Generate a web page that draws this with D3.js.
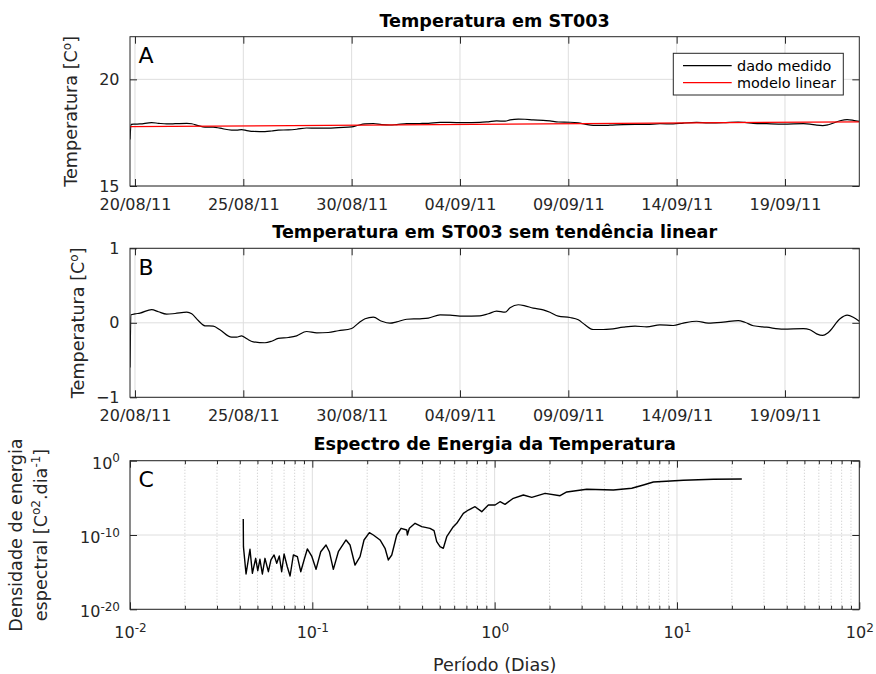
<!DOCTYPE html>
<html><head><meta charset="utf-8">
<script src="https://cdn.jsdelivr.net/npm/d3@7"></script>
<style>
body{margin:0;background:#fff}
svg text{font-family:"DejaVu Sans",sans-serif;fill:#262626}
</style>
</head><body>
<svg id="fig" width="876" height="674"></svg>
<script>
// ---------------- DATA ----------------
const rotulosDatas = ["20/08/11","25/08/11","30/08/11","04/09/11","09/09/11","14/09/11","19/09/11"];
// time in days since 20/08/11 00:00
const diasMedidos = [-0.23,-0.18,0,0.23,0.77,1.08,1.46,1.85,2.39,2.62,2.92,3.23,3.61,3.92,4.46,4.69,4.92,5.16,5.46,6.0,
  6.31,6.61,7.08,7.46,7.92,8.39,8.92,9.38,10.0,10.31,10.62,11.0,11.39,11.77,12.08,12.54,13.15,13.54,14.08,14.54,
  15.15,15.92,16.31,16.69,17.08,17.31,17.69,18.0,18.38,18.84,19.15,19.54,20.08,20.46,20.77,21.15,21.61,21.92,22.54,23.08,
  23.62,24.23,24.84,25.31,25.92,26.46,27.15,27.84,28.15,28.54,29.15,29.92,30.85,31.15,31.46,31.74,32.0,32.54,32.87,33.15,33.43];
const temperaturaMedida = [17.18,17.89,17.90,17.91,17.97,17.94,17.91,17.92,17.94,17.92,17.83,17.76,17.76,17.71,17.62,17.62,17.64,17.60,17.56,17.55,
  17.58,17.62,17.63,17.66,17.72,17.71,17.71,17.74,17.77,17.85,17.91,17.93,17.88,17.86,17.88,17.92,17.93,17.94,17.98,17.98,
  17.97,17.98,18.01,18.05,18.04,18.10,18.14,18.13,18.10,18.08,18.05,18.00,17.99,17.96,17.90,17.84,17.84,17.85,17.88,17.89,
  17.89,17.92,17.91,17.95,17.98,17.96,17.97,18.00,17.98,17.94,17.92,17.90,17.92,17.90,17.85,17.83,17.87,18.06,18.11,18.08,18.03];
const diasModelo = [-0.23, 33.43];
const temperaturaModelo = [17.78, 18.01];
const anomalia = [-0.60,0.107,0.12,0.13,0.178,0.148,0.116,0.125,0.142,0.12,0.03,-0.04,-0.045,-0.094,-0.193,-0.193,-0.175,-0.215,-0.255,-0.268,
  -0.247,-0.21,-0.197,-0.175,-0.117,-0.134,-0.13,-0.107,-0.077,-0.005,0.054,0.075,0.021,-0.005,0.013,0.048,0.054,0.062,0.107,0.102,
  0.089,0.094,0.121,0.156,0.142,0.201,0.242,0.228,0.196,0.174,0.142,0.089,0.071,0.04,-0.027,-0.09,-0.09,-0.086,-0.059,-0.045,
  -0.054,-0.027,-0.036,-0.005,0.021,-0.005,0.008,0.03,0.008,-0.04,-0.059,-0.086,-0.077,-0.094,-0.148,-0.17,-0.13,0.054,0.102,0.075,0.021];
// spectrum: period (days) and energy density
const periodos = [0.0418,0.0419,0.0433,0.0455,0.0469,0.0489,0.0502,0.0516,0.0532,0.0550,0.0574,0.0593,0.0617,0.0638,0.0659,0.0679,0.0700,0.0729,0.0755,0.0787,
  0.0828,0.0864,0.0901,0.0939,0.0992,0.1048,0.1112,0.1189,0.1240,0.1304,0.1389,0.1531,0.1610,0.1714,0.1827,0.1921,0.2055,0.2161,0.2352,0.2505,
  0.2612,0.2727,0.2904,0.3067,0.3295,0.3320,0.3405,0.3660,0.3982,0.4420,0.4651,0.4812,0.5017,0.5230,0.5460,0.5935,0.6195,0.6734,0.7173,0.7808,
  0.8497,0.9235,1.005,1.070,1.140,1.266,1.437,1.598,1.890,2.285,2.486,3.200,4.478,5.651,6.543,7.424,10.84,15.84,22.68];
const energia = [1.41e-8,2.69e-12,5.62e-16,1.20e-12,7.08e-16,7.24e-14,1.58e-15,5.37e-14,5.62e-16,7.24e-14,1.15e-15,4.37e-14,2.04e-13,1.55e-14,1.48e-13,1.15e-15,2.75e-13,5.37e-15,3.02e-16,2.04e-13,
  1.20e-13,1.15e-15,4.37e-14,1.32e-12,1.48e-13,2.40e-15,5.62e-13,4.47e-12,5.62e-13,2.40e-15,5.62e-13,2.14e-11,4.47e-12,9.12e-15,1.20e-13,2.14e-11,2.04e-10,1.0e-10,2.14e-11,1.62e-12,
  4.37e-14,2.04e-13,1.0e-10,7.94e-10,4.68e-10,1.0e-10,7.94e-10,3.72e-9,1.32e-9,7.94e-10,3.80e-10,1.26e-11,2.69e-12,1.62e-12,5.89e-11,1.32e-9,3.72e-9,8.32e-8,2.29e-7,6.46e-7,
  1.38e-7,1.10e-6,1.10e-6,3.02e-6,1.35e-6,8.71e-6,2.40e-5,1.17e-5,4.07e-5,1.95e-5,6.17e-5,1.41e-4,1.15e-4,1.95e-4,5.37e-4,1.35e-3,2.29e-3,3.16e-3,3.47e-3];
const ticksA = [15, 20];
const ticksB = [-1, 0, 1];
const ticksCx = [0.01, 0.1, 1, 10, 100];
const ticksCy = [1e-20, 1e-10, 1];
const legenda = ["dado medido", "modelo linear"];
const titulos = ["Temperatura em ST003", "Temperatura em ST003 sem tendência linear", "Espectro de Energia da Temperatura"];

// ---------------- LAYOUT ----------------
const svg = d3.select("#fig");
svg.append("rect").attr("width",876).attr("height",674).attr("fill","#fff");
const X0 = 130, X1 = 859.3;
const panels = {A:{top:36.7,bottom:186}, B:{top:248.3,bottom:397.3}, C:{top:460.7,bottom:609.3}};
const AX = "#262626", GRID = "#dedede";

const parse = d3.timeParse("%d/%m/%y");
const t0 = parse(rotulosDatas[0]);
const toDate = d => new Date(t0.getTime() + d*864e5);
const tickDates = rotulosDatas.map(parse);

const xT = d3.scaleTime().domain([toDate(diasModelo[0]), toDate(diasModelo[1])]).range([X0, X1]);
const yA = d3.scaleLinear().domain([15,22]).range([panels.A.bottom, panels.A.top]);
const yB = d3.scaleLinear().domain([-1,1]).range([panels.B.bottom, panels.B.top]);
const xC = d3.scaleLog().domain([0.01,100]).range([X0, X1]);
const yC = d3.scaleLog().domain([1e-20,1]).range([panels.C.bottom, panels.C.top]);

function styleAxis(g, size){
  g.attr("font-family",null).attr("font-size",null);
  g.select(".domain").remove();
  g.selectAll(".tick line").attr("stroke",AX).attr("stroke-width",1);
  g.selectAll(".tick text").attr("font-size",size).attr("fill",AX);
}
function clip(id, p){
  svg.append("clipPath").attr("id",id).append("rect")
    .attr("x",X0).attr("y",p.top).attr("width",X1-X0).attr("height",p.bottom-p.top);
}
function frame(p){
  svg.append("rect").attr("x",X0).attr("y",p.top).attr("width",X1-X0).attr("height",p.bottom-p.top)
    .attr("fill","none").attr("stroke",AX).attr("stroke-width",1);
}
function timeAxes(p, y, yt){
  svg.append("g").selectAll("line").data(tickDates).join("line")
    .attr("x1",d=>xT(d)).attr("x2",d=>xT(d)).attr("y1",p.top).attr("y2",p.bottom)
    .attr("stroke",GRID).attr("stroke-width",1);
  svg.append("g").selectAll("line").data(yt).join("line")
    .attr("x1",X0).attr("x2",X1).attr("y1",d=>y(d)).attr("y2",d=>y(d))
    .attr("stroke",GRID).attr("stroke-width",1);
}
function timeTicks(p, y, yt){
  svg.append("g").attr("transform",`translate(0,${p.bottom})`)
    .call(d3.axisBottom(xT).tickValues(tickDates).tickFormat(d3.timeFormat("%d/%m/%y")).tickSizeInner(-7).tickSizeOuter(0).tickPadding(12.5))
    .call(g=>styleAxis(g,16));
  svg.append("g").attr("transform",`translate(0,${p.top})`)
    .call(d3.axisTop(xT).tickValues(tickDates).tickFormat("").tickSizeInner(-7).tickSizeOuter(0))
    .call(g=>styleAxis(g,16));
  svg.append("g").attr("transform",`translate(${X0},0)`)
    .call(d3.axisLeft(y).tickValues(yt).tickFormat(d3.format("d")).tickSizeInner(-7).tickSizeOuter(0).tickPadding(10.5))
    .call(g=>styleAxis(g,16));
  svg.append("g").attr("transform",`translate(${X1},0)`)
    .call(d3.axisRight(y).tickValues(yt).tickFormat("").tickSizeInner(-7).tickSizeOuter(0))
    .call(g=>styleAxis(g,16));
}
function title(txt, yb){
  svg.append("text").attr("x",(X0+X1)/2).attr("y",yb).attr("text-anchor","middle")
    .attr("font-size",17.6).attr("font-weight","bold").style("fill","#000").text(txt);
}
function letter(txt, p){
  svg.append("text").attr("x",138.5).attr("y",p.top+26.5).attr("font-size",22).style("fill","#000").text(txt);
}
function ylabel(x, yc, parts){
  const t = svg.append("text").attr("transform",`translate(${x},${yc}) rotate(-90)`)
    .attr("text-anchor","middle").attr("font-size",17.6);
  parts.forEach(([s, sup]) => {
    const ts = t.append("tspan").text(s);
    if (sup === 1) ts.attr("font-size",12).attr("dy","-0.55em");
    if (sup === -1) ts.attr("dy","0.375em");
  });
}

// ---------------- PANEL A ----------------
const pA = panels.A;
clip("clipA", pA);
timeAxes(pA, yA, ticksA);
const lineA = d3.line().x((d,i)=>xT(toDate(diasMedidos[i]))).y(d=>yA(d)).curve(d3.curveMonotoneX);
svg.append("path").attr("clip-path","url(#clipA)").datum(temperaturaMedida).attr("d",lineA)
  .attr("fill","none").attr("stroke","#000").attr("stroke-width",1.2);
const lineM = d3.line().x((d,i)=>xT(toDate(diasModelo[i]))).y(d=>yA(d));
svg.append("path").attr("clip-path","url(#clipA)").datum(temperaturaModelo).attr("d",lineM)
  .attr("fill","none").attr("stroke","#ff0000").attr("stroke-width",1.2);
frame(pA);
timeTicks(pA, yA, ticksA);
title(titulos[0], 26.7);
letter("A", pA);
ylabel(77.3, (pA.top+pA.bottom)/2, [["Temperatura [C",0],["o",1],["]",-1]]);
const lg = svg.append("g");
lg.append("rect").attr("x",673.3).attr("y",53.3).attr("width",170).attr("height",41.7)
  .attr("fill","#fff").attr("stroke",AX).attr("stroke-width",1);
[["#000",65.7],["#ff0000",82.7]].forEach(([c,yy],i)=>{
  lg.append("line").attr("x1",683).attr("x2",731.7).attr("y1",yy).attr("y2",yy).attr("stroke",c).attr("stroke-width",1.2);
  lg.append("text").attr("x",737).attr("y",yy+5).attr("font-size",14.4).style("fill","#000").text(legenda[i]);
});

// ---------------- PANEL B ----------------
const pB = panels.B;
clip("clipB", pB);
timeAxes(pB, yB, ticksB);
const lineB = d3.line().x((d,i)=>xT(toDate(diasMedidos[i]))).y(d=>yB(d)).curve(d3.curveMonotoneX);
svg.append("path").attr("clip-path","url(#clipB)").datum(anomalia).attr("d",lineB)
  .attr("fill","none").attr("stroke","#000").attr("stroke-width",1.2);
frame(pB);
timeTicks(pB, yB, ticksB);
title(titulos[1], 237.6);
letter("B", pB);
ylabel(84.2, (pB.top+pB.bottom)/2, [["Temperatura [C",0],["o",1],["]",-1]]);

// ---------------- PANEL C ----------------
const pC = panels.C;
clip("clipC", pC);
const minorX = [];
[0.01,0.1,1,10].forEach(b=>{ for(let k=2;k<=9;k++) minorX.push(b*k); });
svg.append("g").selectAll("line").data(minorX).join("line")
  .attr("x1",d=>xC(d)).attr("x2",d=>xC(d)).attr("y1",pC.top).attr("y2",pC.bottom)
  .attr("stroke","#c4c4c4").attr("stroke-width",0.8).attr("stroke-dasharray","1.2,1.8");
svg.append("g").selectAll("line").data(ticksCx).join("line")
  .attr("x1",d=>xC(d)).attr("x2",d=>xC(d)).attr("y1",pC.top).attr("y2",pC.bottom)
  .attr("stroke",GRID).attr("stroke-width",1);
svg.append("g").selectAll("line").data(ticksCy).join("line")
  .attr("x1",X0).attr("x2",X1).attr("y1",d=>yC(d)).attr("y2",d=>yC(d))
  .attr("stroke",GRID).attr("stroke-width",1);
const lineC = d3.line().x((d,i)=>xC(periodos[i])).y(d=>yC(d));
svg.append("path").attr("clip-path","url(#clipC)").datum(energia).attr("d",lineC)
  .attr("fill","none").attr("stroke","#000").attr("stroke-width",1.4).attr("stroke-linejoin","round");
frame(pC);
function supLabels(g){
  g.selectAll(".tick text").each(function(d){
    const e = Math.round(Math.log10(d));
    const t = d3.select(this).text(null);
    t.append("tspan").text("10");
    t.append("tspan").attr("font-size",12).attr("dy","-0.55em").text(e);
  });
}
svg.append("g").attr("transform",`translate(0,${pC.bottom})`)
  .call(d3.axisBottom(xC).tickValues(ticksCx).tickFormat(()=>"").tickSizeInner(-7).tickSizeOuter(0).tickPadding(17.5))
  .call(g=>styleAxis(g,16)).call(supLabels);
svg.append("g").attr("transform",`translate(0,${pC.bottom})`)
  .call(d3.axisBottom(xC).tickValues(minorX).tickFormat("").tickSizeInner(-3.5).tickSizeOuter(0))
  .call(g=>styleAxis(g,16));
svg.append("g").attr("transform",`translate(0,${pC.top})`)
  .call(d3.axisTop(xC).tickValues(ticksCx).tickFormat("").tickSizeInner(-7).tickSizeOuter(0))
  .call(g=>styleAxis(g,16));
svg.append("g").attr("transform",`translate(0,${pC.top})`)
  .call(d3.axisTop(xC).tickValues(minorX).tickFormat("").tickSizeInner(-3.5).tickSizeOuter(0))
  .call(g=>styleAxis(g,16));
svg.append("g").attr("transform",`translate(${X0},0)`)
  .call(d3.axisLeft(yC).tickValues(ticksCy).tickFormat(()=>"").tickSizeInner(-7).tickSizeOuter(0).tickPadding(10))
  .call(g=>styleAxis(g,16)).call(supLabels)
  .call(g=>g.selectAll(".tick text").attr("dy","0.48em"));
svg.append("g").attr("transform",`translate(${X1},0)`)
  .call(d3.axisRight(yC).tickValues(ticksCy).tickFormat("").tickSizeInner(-7).tickSizeOuter(0))
  .call(g=>styleAxis(g,16));
title(titulos[2], 450);
letter("C", pC);
const yl = svg.append("g").attr("transform",`translate(0,${(pC.top+pC.bottom)/2})`);
yl.append("text").attr("transform","translate(21.5,0) rotate(-90)").attr("text-anchor","middle")
  .attr("font-size",17.6).text("Densidade de energia");
const l2 = yl.append("text").attr("transform","translate(46.7,0) rotate(-90)").attr("text-anchor","middle").attr("font-size",17.6);
l2.append("tspan").text("espectral [C");
l2.append("tspan").attr("font-size",12).attr("dy","-0.55em").text("o2");
l2.append("tspan").attr("dy","0.375em").text(".dia");
l2.append("tspan").attr("font-size",12).attr("dy","-0.55em").text("-1");
l2.append("tspan").attr("dy","0.375em").text("]");
svg.append("text").attr("x",(X0+X1)/2).attr("y",670.5).attr("text-anchor","middle")
  .attr("font-size",17.6).text("Período (Dias)");
</script>
</body></html>
